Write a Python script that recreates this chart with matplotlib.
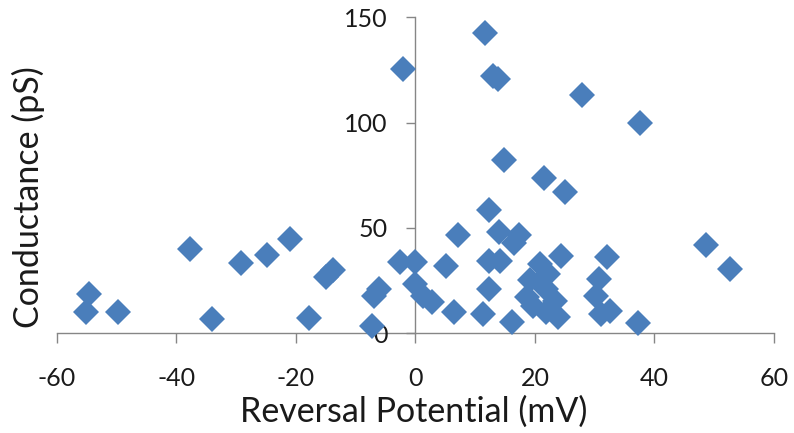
import matplotlib
matplotlib.use("Agg")
import matplotlib.pyplot as plt

# Data
reversal_potential_mV = [
    -55.1, -54.6, -49.8, -37.7, -34.1, -29.2, -24.9, -20.9, -17.8, -14.9,
    -13.7, -7.2, -7.0, -6.0, -2.6, -2.0, -0.1, -0.1, 1.2, 2.8,
    5.2, 6.5, 7.1, 11.3, 11.7, 12.4, 12.4, 12.3, 13.0, 13.8,
    14.0, 14.1, 14.9, 16.1, 16.5, 17.3, 19.1, 18.6, 19.7, 20.8,
    21.5, 21.9, 21.9, 22.2, 23.3, 23.8, 24.4, 25.0, 27.9, 30.3,
    30.8, 31.0, 32.5, 32.1, 37.2, 37.5, 48.6, 52.7,
]
conductance_pS = [
    10.3, 18.7, 10.3, 39.9, 6.8, 33.2, 37.2, 44.8, 7.4, 26.6,
    30.0, 3.5, 17.5, 21.0, 34.0, 125.4, 34.0, 23.5, 17.5, 15.0,
    32.0, 10.3, 46.8, 9.3, 142.4, 58.7, 21.0, 34.5, 122.2, 120.5,
    48.2, 34.5, 82.1, 5.5, 42.7, 46.5, 25.3, 17.4, 12.8, 33.0,
    73.6, 21.0, 10.3, 28.0, 15.5, 7.6, 36.8, 67.2, 113.0, 17.6,
    25.9, 9.0, 10.5, 36.0, 4.7, 99.7, 41.9, 30.7,
]

x_ticks = [-60, -40, -20, 0, 20, 40, 60]
y_ticks = [0, 50, 100, 150]
x_label = "Reversal Potential (mV)"
y_label = "Conductance (pS)"

plt.rcParams['font.family'] = ['Lato', 'DejaVu Sans']

W, H = 794, 433
fig = plt.figure(figsize=(W / 100, H / 100), dpi=100)
left, right = 56.7 / W, 774 / W
bottom, top = 1 - 333.3 / H, 1 - 17.3 / H
ax = fig.add_axes([left, bottom, right - left, top - bottom])

marker_color = '#4A7EBB'
ax.plot(reversal_potential_mV, conductance_pS, linestyle='none', marker='D',
        markersize=13.5, color=marker_color, markeredgewidth=0,
        clip_on=False, zorder=5)

ax.set_xlim(-60, 60)
ax.set_ylim(0, 150)
ax.set_xticks(x_ticks)
ax.set_yticks(y_ticks)
ax.set_xticklabels([str(v) for v in x_ticks])
ax.set_yticklabels([str(v) for v in y_ticks])

axis_color = '#868686'
for side in ('top', 'right'):
    ax.spines[side].set_visible(False)
ax.spines['left'].set_position(('data', 0))
ax.spines['bottom'].set_position(('data', 0))
for side in ('left', 'bottom'):
    ax.spines[side].set_color(axis_color)
    ax.spines[side].set_linewidth(1.0)
    ax.spines[side].set_zorder(1)

ax.tick_params(axis='x', direction='out', length=7.5, width=1.0,
               color=axis_color, labelsize=18, pad=17, labelcolor='#1a1a1a')
ax.tick_params(axis='y', direction='out', length=6.5, width=1.0,
               color=axis_color, labelsize=18, pad=13.5, labelcolor='#1a1a1a')

ax.patch.set_visible(False)

fig.text(414 / W, 1 - 412 / H, x_label, ha='center', va='center',
         fontsize=24.5, color='#1a1a1a')
fig.text(28 / W, 1 - 197 / H, y_label, ha='center', va='center',
         rotation=90, fontsize=24.5, color='#1a1a1a')

fig.savefig('out.png', dpi=100)
